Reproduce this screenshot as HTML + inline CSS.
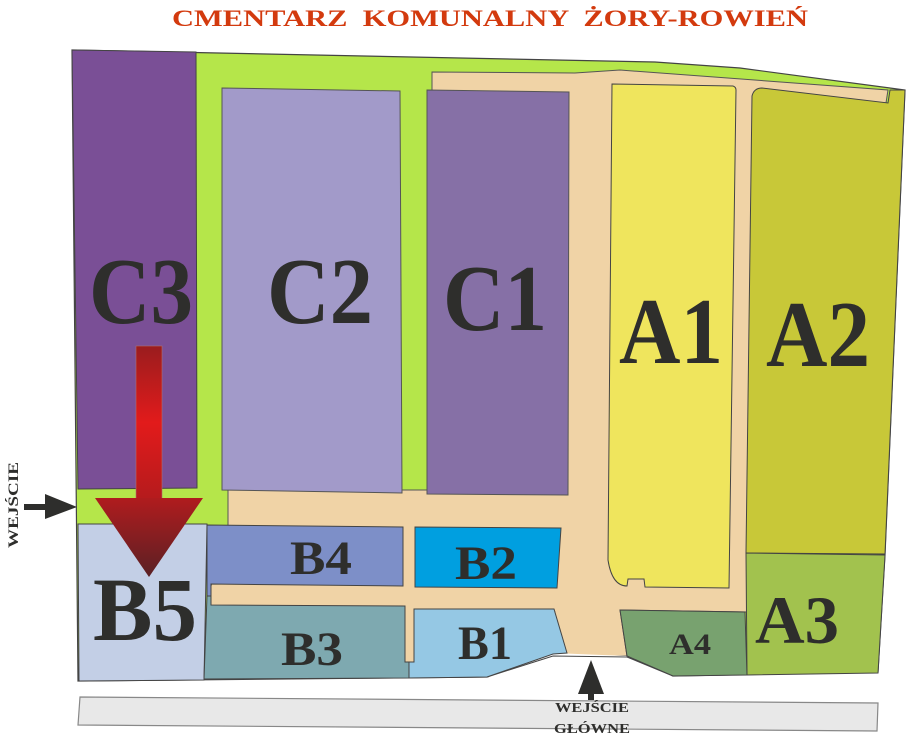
<!DOCTYPE html>
<html><head><meta charset="utf-8"><style>
html,body{margin:0;padding:0;background:#fff;width:906px;height:745px;overflow:hidden}
svg{display:block}
text{font-family:"Liberation Serif",serif;font-weight:bold;fill:#2e2e2c}
</style></head><body>
<svg width="906" height="745" viewBox="0 0 906 745" xmlns="http://www.w3.org/2000/svg">
<defs>
<linearGradient id="rg" x1="0" y1="0" x2="0" y2="1">
<stop offset="0" stop-color="#b01c1e"/><stop offset="1" stop-color="#5a2024"/>
</linearGradient>
<linearGradient id="rg2" x1="0" y1="0" x2="0" y2="1">
<stop offset="0" stop-color="#9a1c1e"/><stop offset="0.5" stop-color="#e21b1b"/><stop offset="1" stop-color="#b51b1d"/>
</linearGradient>
</defs>
<text x="490" y="26" text-anchor="middle" font-size="23" style="fill:#d33a0e" textLength="636" lengthAdjust="spacingAndGlyphs" xml:space="preserve">CMENTARZ  KOMUNALNY  ŻORY-ROWIEŃ</text>

<!-- outer green -->
<polygon points="72,50 655,62 740,68 905,90 885,555 878,672 673,676 627,657 555,656 487,677 78,681" fill="#b5e64a" stroke="#444" stroke-width="1.2"/>
<!-- beige roads -->
<polygon points="432,72 575,73 620,70 888,90 886,103 755,92 748,612 620,610 627,656 555,656 555,612 415,612 415,662 405,662 405,612 211,608 211,586 228,525 228,490 432,490" fill="#f0d3a6" stroke="#555" stroke-width="1"/>
<polygon points="553,653 627,656 673,676 487,677" fill="#fff"/>
<polyline points="487,677 553,656 627,657 673,676" fill="none" stroke="#444"/>

<!-- C plots -->
<polygon points="72,50 196,52 197,488 78,489" fill="#7a4f96" stroke="#444"/>
<polygon points="222,88 400,91 402,493 222,490" fill="#a29ac9" stroke="#555"/>
<polygon points="427,90 569,92 568,495 427,494" fill="#8670a6" stroke="#555"/>
<!-- A plots -->
<path d="M612,84 L733,86 Q736,87 736,90 L729,588 L645,587 L644,579 L628,579 L627,586 Q612,586 608,560 Z" fill="#efe55d" stroke="#444"/>
<path d="M752,96 Q754,88 762,88 L888,103 L890,90 L905,90 L885,554 L746,553 Z" fill="#c8c838" stroke="#444"/>
<polygon points="746,553 885,555 878,673 747,675" fill="#a2c24e" stroke="#444"/>
<polygon points="620,610 745,612 747,675 673,676 627,656" fill="#78a26f" stroke="#444"/>
<!-- B plots -->
<polygon points="78,524 207,524 204,680 79,681" fill="#c3cfe6" stroke="#444"/>
<polygon points="207,525 403,527 403,586 211,584 211,596 207,596" fill="#7d8fc8" stroke="#444"/>
<polygon points="415,527 561,528 557,588 415,587" fill="#009fe0" stroke="#444"/>
<polygon points="211,605 405,606 405,662 409,662 409,678 204,679 207,596 211,596" fill="#7ea9b0" stroke="#444"/>
<polygon points="414,609 554,609 567,653 553,654 487,677 409,678 409,662 414,662" fill="#95c8e4" stroke="#444"/>

<!-- road bar -->
<polygon points="80,697 878,703 877,731 78,725" fill="#e8e8e8" stroke="#888" stroke-width="1.2"/>

<!-- labels -->
<text x="141" y="323" font-size="94" text-anchor="middle" textLength="104" lengthAdjust="spacingAndGlyphs">C3</text>
<text x="320" y="323" font-size="94" text-anchor="middle" textLength="106" lengthAdjust="spacingAndGlyphs">C2</text>
<text x="495" y="330" font-size="94" text-anchor="middle" textLength="104" lengthAdjust="spacingAndGlyphs">C1</text>
<text x="671" y="363" font-size="94" text-anchor="middle" textLength="104" lengthAdjust="spacingAndGlyphs">A1</text>
<text x="818" y="366" font-size="94" text-anchor="middle" textLength="104" lengthAdjust="spacingAndGlyphs">A2</text>
<text x="145" y="640" font-size="90" text-anchor="middle" textLength="104" lengthAdjust="spacingAndGlyphs">B5</text>
<text x="321" y="574" font-size="48" text-anchor="middle" textLength="62" lengthAdjust="spacingAndGlyphs">B4</text>
<text x="486" y="579" font-size="48" text-anchor="middle" textLength="62" lengthAdjust="spacingAndGlyphs">B2</text>
<text x="312" y="665" font-size="48" text-anchor="middle" textLength="62" lengthAdjust="spacingAndGlyphs">B3</text>
<text x="485" y="659" font-size="48" text-anchor="middle" textLength="54" lengthAdjust="spacingAndGlyphs">B1</text>
<text x="690" y="654" font-size="30" text-anchor="middle" textLength="42" lengthAdjust="spacingAndGlyphs">A4</text>
<text x="797" y="643" font-size="68" text-anchor="middle" textLength="84" lengthAdjust="spacingAndGlyphs">A3</text>

<!-- red arrow -->
<rect x="136" y="346" width="26" height="153" fill="url(#rg2)" stroke="#b07070" stroke-width="0.6"/>
<polygon points="95,498 203,498 149,577" fill="url(#rg)"/>

<!-- left entrance arrow -->
<rect x="24" y="504" width="26" height="6" fill="#2e2e2c"/>
<polygon points="45,494 77,507 45,519" fill="#2e2e2c"/>
<text font-size="15" text-anchor="middle" transform="translate(18,505) rotate(-90)" textLength="86" lengthAdjust="spacingAndGlyphs">WEJŚCIE</text>

<!-- bottom entrance arrow -->
<polygon points="591,660 578,694 604,694" fill="#2e2e2c"/>
<rect x="588" y="690" width="6" height="10" fill="#2e2e2c"/>
<text x="592" y="712" font-size="14" text-anchor="middle" textLength="74" lengthAdjust="spacingAndGlyphs">WEJŚCIE</text>
<text x="592" y="733" font-size="14" text-anchor="middle" textLength="76" lengthAdjust="spacingAndGlyphs">GŁÓWNE</text>
</svg>
</body></html>
